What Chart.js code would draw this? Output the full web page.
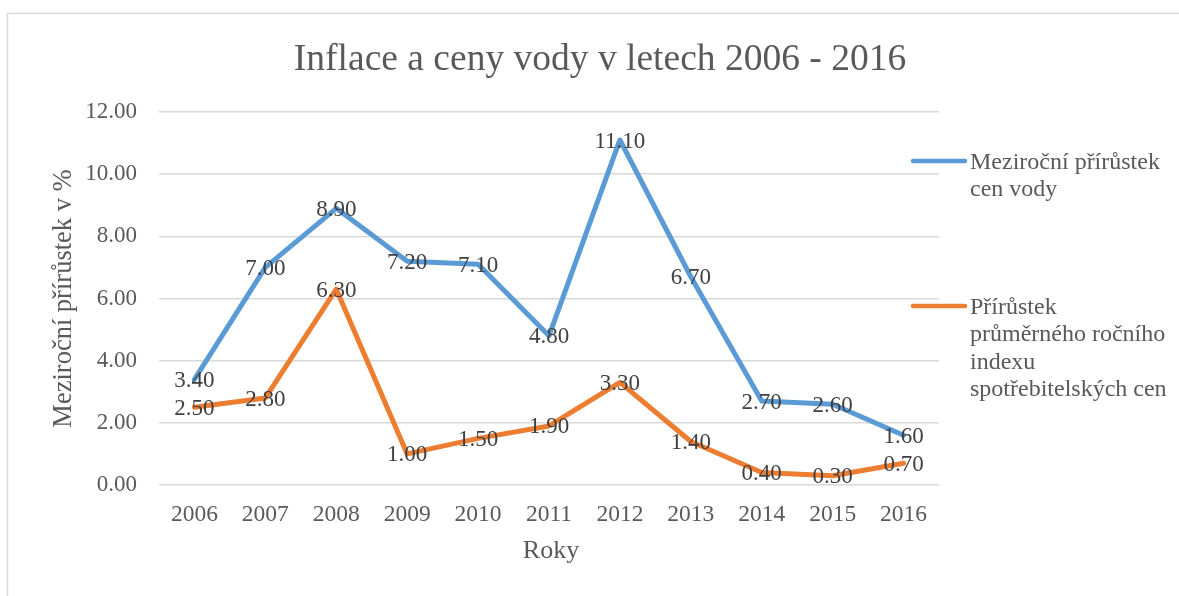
<!DOCTYPE html>
<html>
<head>
<meta charset="utf-8">
<script src="https://cdn.jsdelivr.net/npm/chart.js@4/dist/chart.umd.min.js"></script>
<style>
html,body{margin:0;padding:0;background:#fff;}
#wrap{width:1179px;height:596px;position:relative;}
</style>
</head>
<body>
<div id="wrap"><canvas id="c" width="1179" height="596"></canvas></div>
<script>
const chartTitle = "Inflace a ceny vody v letech 2006 - 2016";
const yAxisTitle = "Meziroční přírůstek v %";
const xAxisTitle = "Roky";
const years = ["2006","2007","2008","2009","2010","2011","2012","2013","2014","2015","2016"];
const waterPriceGrowth = [3.4, 7.0, 8.9, 7.2, 7.1, 4.8, 11.1, 6.7, 2.7, 2.6, 1.6];
const cpiGrowth = [2.5, 2.8, 6.3, 1.0, 1.5, 1.9, 3.3, 1.4, 0.4, 0.3, 0.7];
const seriesNames = ["Meziroční přírůstek cen vody", "Přírůstek průměrného ročního indexu spotřebitelských cen"];
const legendLines = [["Meziroční přírůstek", "cen vody"], ["Přírůstek", "průměrného ročního", "indexu", "spotřebitelských cen"]];
const colors = ["#5B9BD5", "#ED7D31"];
const FONT = "'Liberation Serif', 'Times New Roman', serif";

const decorPlugin = {
  id: 'decor',
  beforeDraw(chart) {
    const ctx = chart.ctx;
    ctx.save();
    ctx.fillStyle = '#fff';
    ctx.fillRect(0, 0, chart.width, chart.height);
    ctx.strokeStyle = '#d9d9d9';
    ctx.lineWidth = 1.5;
    ctx.beginPath();
    ctx.moveTo(7.5, chart.height + 5);
    ctx.lineTo(7.5, 13.5);
    ctx.lineTo(chart.width + 5, 13.5);
    ctx.stroke();
    ctx.restore();
  },
  afterDatasetsDraw(chart) {
    const ctx = chart.ctx;
    ctx.save();
    ctx.font = "23px " + FONT;
    ctx.fillStyle = '#404040';
    ctx.textAlign = 'center';
    ctx.textBaseline = 'middle';
    chart.data.datasets.forEach((ds, i) => {
      const meta = chart.getDatasetMeta(i);
      meta.data.forEach((pt, j) => {
        ctx.fillText(ds.data[j].toFixed(2), pt.x, pt.y + 1.5);
      });
    });
    ctx.restore();
  },
  afterDraw(chart) {
    const ctx = chart.ctx;
    const ca = chart.chartArea;
    ctx.save();
    // title
    ctx.fillStyle = '#595959';
    ctx.font = "37.5px " + FONT;
    ctx.textAlign = 'center';
    ctx.textBaseline = 'alphabetic';
    ctx.fillText(chartTitle, 600, 70);
    // axis titles
    ctx.font = "26px " + FONT;
    ctx.textBaseline = 'middle';
    ctx.fillText(xAxisTitle, 551, 551);
    ctx.save();
    ctx.translate(64, (ca.top + ca.bottom) / 2);
    ctx.rotate(-Math.PI / 2);
    ctx.font = "26.5px " + FONT;
    ctx.fillText(yAxisTitle, 0, 0);
    ctx.restore();
    // legend
    const legendY = [161, 306];
    ctx.lineCap = 'round';
    ctx.textAlign = 'left';
    ctx.textBaseline = 'alphabetic';
    ctx.font = "24px " + FONT;
    legendLines.forEach((lines, i) => {
      ctx.strokeStyle = colors[i];
      ctx.lineWidth = 4.5;
      ctx.beginPath();
      ctx.moveTo(913, legendY[i]);
      ctx.lineTo(965, legendY[i]);
      ctx.stroke();
      ctx.fillStyle = '#595959';
      lines.forEach((t, k) => {
        ctx.fillText(t, 970, legendY[i] + 8 + k * 27.3);
      });
    });
    ctx.restore();
  }
};

new Chart(document.getElementById('c'), {
  type: 'line',
  data: {
    labels: years,
    datasets: [
      { label: seriesNames[0], data: waterPriceGrowth, borderColor: colors[0], backgroundColor: colors[0], borderWidth: 5, pointRadius: 0, tension: 0, borderCapStyle: 'round', borderJoinStyle: 'round' },
      { label: seriesNames[1], data: cpiGrowth, borderColor: colors[1], backgroundColor: colors[1], borderWidth: 5, pointRadius: 0, tension: 0, borderCapStyle: 'round', borderJoinStyle: 'round' }
    ]
  },
  options: {
    responsive: false,
    animation: false,
    devicePixelRatio: 1,
    layout: { padding: { left: 0, top: 112, right: 240, bottom: 0 } },
    plugins: { legend: { display: false }, title: { display: false }, tooltip: { enabled: false } },
    scales: {
      x: {
        type: 'category',
        offset: true,
        grid: { display: false, drawTicks: false },
        border: { display: false },
        ticks: { color: '#595959', font: { family: FONT, size: 23.5 }, padding: 16, maxRotation: 0 },
        afterFit(s) { s.height = 111; }
      },
      y: {
        min: 0, max: 12,
        ticks: { stepSize: 2, color: '#595959', font: { family: FONT, size: 23 }, padding: 22, callback: v => Number(v).toFixed(2) },
        grid: { color: '#d9d9d9', lineWidth: 1.5, drawTicks: false },
        border: { display: false },
        afterFit(s) { s.width = 159; }
      }
    }
  },
  plugins: [decorPlugin]
});
</script>
</body>
</html>
